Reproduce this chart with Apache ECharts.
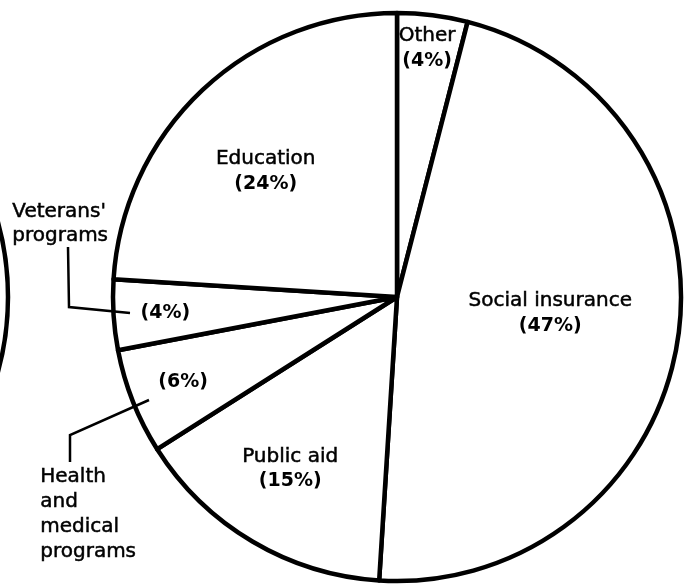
<!DOCTYPE html>
<html>
<head>
<meta charset="utf-8">
<script src="https://cdn.jsdelivr.net/npm/echarts@6/dist/echarts.min.js"></script>
<style>
  html, body { margin: 0; padding: 0; background: #fff; }
  #chart { width: 684px; height: 584px; }
</style>
</head>
<body>
<div id="chart"></div>
<script>
// Data (percent of total), clockwise from 12 o'clock
var categories = ['Other', 'Social insurance', 'Public aid', 'Health and medical programs', "Veterans' programs", 'Education'];
var values = [4, 47, 15, 6, 4, 24];
// label text shown inside each slice (name part); empty = name shown outside
var insideNames = ['Other', 'Social insurance', 'Public aid', '', '', 'Education'];
var outsideNames = { 3: ['Health', 'and', 'medical', 'programs'], 4: ["Veterans'", 'programs'] };

// label offsets from the default inside position (layout only)
var labelOffsets = [[12, -105], [10, -6], [-33, 47], [-79, 32], [-87, 7], [-32, -20]];

var chart = echarts.init(document.getElementById('chart'), null, { renderer: 'canvas' });

var pieData = categories.map(function (c, i) {
  var txt = (insideNames[i] ? '{n|' + insideNames[i] + '}\n' : '') + '{p|(' + values[i] + '%)}';
  return {
    name: c,
    value: values[i],
    label: { formatter: txt, offset: labelOffsets[i] }
  };
});

var FONT = 'DejaVu Sans';

var option = {
  backgroundColor: '#ffffff',
  animation: false,
  series: [{
    type: 'pie',
    center: [397, 297],
    radius: 284,
    startAngle: 90,
    clockwise: true,
    silent: true,
    avoidLabelOverlap: false,
    itemStyle: { color: '#ffffff', borderColor: '#000000', borderWidth: 4.5, borderJoin: 'round' },
    label: {
      show: true,
      position: 'inside',
      color: '#000',
      align: 'center',
      rich: {
        n: { fontFamily: FONT, fontSize: 20, lineHeight: 25, color: '#000', align: 'center', textBorderColor: '#000', textBorderWidth: 0.5 },
        p: { fontFamily: FONT, fontSize: 19, fontWeight: 'bold', lineHeight: 25, color: '#000', align: 'center' }
      }
    },
    labelLine: { show: false },
    emphasis: { disabled: true },
    data: pieData
  }],
  graphic: [
    // edge of neighbouring pie at far left
    { type: 'circle', z: 10, shape: { cx: -276, cy: 297, r: 284 }, style: { fill: 'none', stroke: '#000', lineWidth: 4.5 }, silent: true },
    // Veterans' leader line
    { type: 'polyline', z: 10, shape: { points: [[68, 247], [69, 307], [130, 313]] }, style: { fill: 'none', stroke: '#000', lineWidth: 2.5 }, silent: true },
    // Health leader line
    { type: 'polyline', z: 10, shape: { points: [[149, 400], [70, 435], [70, 462]] }, style: { fill: 'none', stroke: '#000', lineWidth: 2.5 }, silent: true },
    { type: 'text', z: 10, left: 12, top: 200, style: { text: outsideNames[4].join('\n'), font: '20px "' + FONT + '"', lineHeight: 24, fill: '#000', stroke: '#000', lineWidth: 0.5, align: 'center', x: 48 }, silent: true },
    { type: 'text', z: 10, left: 40, top: 464, style: { text: outsideNames[3].join('\n'), font: '20px "' + FONT + '"', lineHeight: 25, fill: '#000', stroke: '#000', lineWidth: 0.5, align: 'left' }, silent: true }
  ]
};

chart.setOption(option);
</script>
</body>
</html>
